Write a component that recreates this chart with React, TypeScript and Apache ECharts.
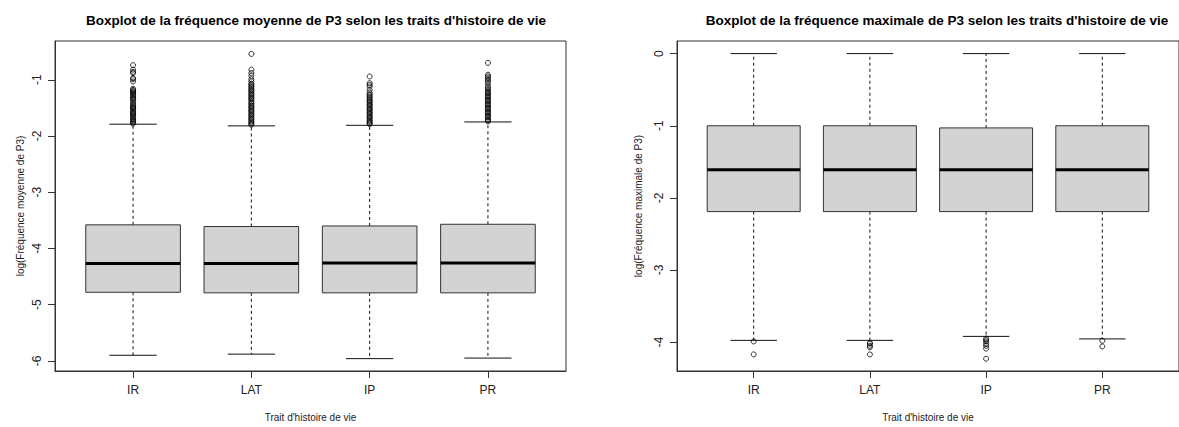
import { useEffect, useRef } from 'react';
import * as echarts from 'echarts';

// Life-history trait groups on the x axis
const categories = ['IR', 'LAT', 'IP', 'PR'];

// Tick values for each y axis
const meanTicks = [-6, -5, -4, -3, -2, -1];
const maxTicks = [-4, -3, -2, -1, 0];

// Box statistics per group: [lower whisker, Q1, median, Q3, upper whisker]
const meanIR = [-5.9, -4.78, -4.27, -3.58, -1.79];
const meanLAT = [-5.88, -4.79, -4.27, -3.61, -1.82];
const meanIP = [-5.96, -4.79, -4.26, -3.6, -1.81];
const meanPR = [-5.95, -4.79, -4.26, -3.57, -1.75];

const maxIR = [-3.975, -2.19, -1.61, -1.0, 0];
const maxLAT = [-3.975, -2.19, -1.61, -1.0, 0];
const maxIP = [-3.92, -2.19, -1.61, -1.03, 0];
const maxPR = [-3.955, -2.19, -1.61, -1.0, 0];

// Outlying observations per group
const meanOutIR = [
  -0.74, -0.82, -0.86, -0.88, -0.97, -0.99, -1.03, -1.16, -1.18, -1.2, -1.22, -1.24, -1.26,
  -1.28, -1.31, -1.33, -1.35, -1.37, -1.41, -1.44, -1.46, -1.48, -1.5, -1.52, -1.55, -1.57,
  -1.59, -1.61, -1.63, -1.65, -1.67, -1.7, -1.72, -1.74, -1.76, -1.78,
];
const meanOutLAT = [
  -0.54, -0.82, -0.88, -0.93, -0.99, -1.03, -1.07, -1.09, -1.12, -1.14, -1.17, -1.19, -1.21,
  -1.24, -1.26, -1.28, -1.31, -1.33, -1.35, -1.38, -1.41, -1.43, -1.46, -1.48, -1.5, -1.53,
  -1.55, -1.57, -1.6, -1.62, -1.64, -1.67, -1.69, -1.71, -1.74, -1.76, -1.78, -1.8,
];
const meanOutIP = [
  -0.94, -1.06, -1.09, -1.12, -1.18, -1.23, -1.26, -1.28, -1.31, -1.33, -1.36, -1.38, -1.4,
  -1.43, -1.45, -1.47, -1.5, -1.52, -1.54, -1.57, -1.59, -1.61, -1.64, -1.66, -1.68, -1.71,
  -1.73, -1.75, -1.77, -1.79,
];
const meanOutPR = [
  -0.7, -0.91, -0.94, -0.97, -1.0, -1.03, -1.07, -1.12, -1.15, -1.18, -1.21, -1.23, -1.25,
  -1.28, -1.3, -1.32, -1.35, -1.37, -1.39, -1.42, -1.44, -1.46, -1.49, -1.51, -1.53, -1.56,
  -1.58, -1.6, -1.63, -1.65, -1.67, -1.7, -1.72, -1.74,
];

const maxOutIR = [-3.99, -4.17];
const maxOutLAT = [-4.01, -4.02, -4.05, -4.07, -4.17];
const maxOutIP = [-3.95, -3.97, -3.99, -4.02, -4.05, -4.09, -4.23];
const maxOutPR = [-3.98, -4.06];

const FONT = "'Liberation Sans', Arial, sans-serif";
const INK = '#222';

function boxRows(stats: number[][]) {
  return stats.map((s, i) => [i + 1, ...s]);
}

function outlierPoints(groups: number[][]) {
  const pts: number[][] = [];
  groups.forEach((vals, i) => vals.forEach((v) => pts.push([i + 1, v])));
  return pts;
}

function renderBox(_params: any, api: any) {
  const x = api.value(0);
  const lo = api.value(1);
  const q1 = api.value(2);
  const med = api.value(3);
  const q3 = api.value(4);
  const hi = api.value(5);
  const cx = api.coord([x, q1])[0];
  const left = api.coord([x - 0.4, q1])[0];
  const right = api.coord([x + 0.4, q1])[0];
  const capL = api.coord([x - 0.2, q1])[0];
  const capR = api.coord([x + 0.2, q1])[0];
  const yLo = api.coord([x, lo])[1];
  const yQ1 = api.coord([x, q1])[1];
  const yMed = api.coord([x, med])[1];
  const yQ3 = api.coord([x, q3])[1];
  const yHi = api.coord([x, hi])[1];
  const dashed = { stroke: '#111', lineWidth: 1, lineDash: [3, 3] };
  const solid = { stroke: '#111', lineWidth: 1 };
  return {
    type: 'group',
    children: [
      { type: 'line', shape: { x1: cx, y1: yQ3, x2: cx, y2: yHi }, style: dashed },
      { type: 'line', shape: { x1: cx, y1: yQ1, x2: cx, y2: yLo }, style: dashed },
      { type: 'line', shape: { x1: capL, y1: yHi, x2: capR, y2: yHi }, style: solid },
      { type: 'line', shape: { x1: capL, y1: yLo, x2: capR, y2: yLo }, style: solid },
      {
        type: 'rect',
        shape: { x: left, y: yQ3, width: right - left, height: yQ1 - yQ3 },
        style: { fill: '#d3d3d3', stroke: '#333', lineWidth: 1 },
      },
      {
        type: 'line',
        shape: { x1: left, y1: yMed, x2: right, y2: yMed },
        style: { stroke: '#000', lineWidth: 3 },
      },
    ],
  };
}

function xAxisFor(gridIndex: number) {
  return {
    type: 'value',
    gridIndex,
    min: 0.34,
    max: 4.66,
    name: "Trait d'histoire de vie",
    nameLocation: 'middle',
    nameGap: 41,
    nameTextStyle: { fontFamily: FONT, fontSize: 10, color: INK },
    axisLine: { show: true, onZero: false, lineStyle: { color: '#333', width: 1 } },
    axisTick: { show: true, length: 7, customValues: [1, 2, 3, 4], lineStyle: { color: '#333' } },
    axisLabel: {
      customValues: [1, 2, 3, 4],
      formatter: (v: number) => categories[Math.round(v) - 1] ?? '',
      fontFamily: FONT,
      fontSize: 12,
      color: INK,
      margin: 13,
    },
    splitLine: { show: false },
  };
}

function yAxisFor(gridIndex: number, min: number, max: number, ticks: number[], name: string, gap: number) {
  return {
    type: 'value',
    gridIndex,
    min,
    max,
    name,
    nameLocation: 'middle',
    nameRotate: 90,
    nameGap: gap,
    nameTextStyle: { fontFamily: FONT, fontSize: 10, color: INK },
    axisLine: { show: true, onZero: false, lineStyle: { color: '#333', width: 1 } },
    axisTick: { show: true, length: 7, customValues: ticks, lineStyle: { color: '#333' } },
    axisLabel: {
      customValues: ticks,
      formatter: (v: number) => String(v),
      rotate: 90,
      fontFamily: FONT,
      fontSize: 12,
      color: INK,
      margin: 12,
    },
    splitLine: { show: false },
  };
}

const outlierStyle = {
  type: 'scatter',
  symbol: 'circle',
  symbolSize: 5,
  itemStyle: { color: 'rgba(0,0,0,0)', borderColor: '#000', borderWidth: 1 },
  silent: true,
};

export default function App() {
  const ref = useRef<HTMLDivElement>(null);

  useEffect(() => {
    if (!ref.current) return;
    const chart = echarts.init(ref.current, null, { renderer: 'svg' });
    chart.setOption({
      animation: false,
      backgroundColor: '#fff',
      title: [
        {
          text: 'Boxplot de la fréquence moyenne de P3 selon les traits d\'histoire de vie',
          left: 311,
          top: 8,
          textAlign: 'center',
          textStyle: { fontFamily: FONT, fontSize: 13.5, fontWeight: 'bold', color: '#000' },
        },
        {
          text: 'Boxplot de la fréquence maximale de P3 selon les traits d\'histoire de vie',
          left: 932,
          top: 8,
          textAlign: 'center',
          textStyle: { fontFamily: FONT, fontSize: 13.5, fontWeight: 'bold', color: '#000' },
        },
      ],
      grid: [
        { left: 55, top: 41, width: 511, height: 334, show: true, borderColor: '#333', borderWidth: 1, backgroundColor: 'transparent' },
        { left: 677, top: 41, width: 511, height: 334, show: true, borderColor: '#333', borderWidth: 1, backgroundColor: 'transparent' },
      ],
      xAxis: [xAxisFor(0), xAxisFor(1)],
      yAxis: [
        yAxisFor(0, -6.18, -0.31, meanTicks, 'log(Fréquence moyenne de P3)', 30),
        yAxisFor(1, -4.4, 0.175, maxTicks, 'log(Fréquence maximale de P3)', 34),
      ],
      series: [
        {
          type: 'custom',
          xAxisIndex: 0,
          yAxisIndex: 0,
          renderItem: renderBox,
          encode: { x: 0, y: [1, 2, 3, 4, 5] },
          data: boxRows([meanIR, meanLAT, meanIP, meanPR]),
        },
        {
          ...outlierStyle,
          xAxisIndex: 0,
          yAxisIndex: 0,
          data: outlierPoints([meanOutIR, meanOutLAT, meanOutIP, meanOutPR]),
        },
        {
          type: 'custom',
          xAxisIndex: 1,
          yAxisIndex: 1,
          renderItem: renderBox,
          encode: { x: 0, y: [1, 2, 3, 4, 5] },
          data: boxRows([maxIR, maxLAT, maxIP, maxPR]),
        },
        {
          ...outlierStyle,
          xAxisIndex: 1,
          yAxisIndex: 1,
          data: outlierPoints([maxOutIR, maxOutLAT, maxOutIP, maxOutPR]),
        },
      ],
    });
    return () => chart.dispose();
  }, []);

  return (
    <div
      ref={ref}
      style={{ position: 'absolute', left: 0, top: 0, width: 1179, height: 427, background: '#fff' }}
    />
  );
}
